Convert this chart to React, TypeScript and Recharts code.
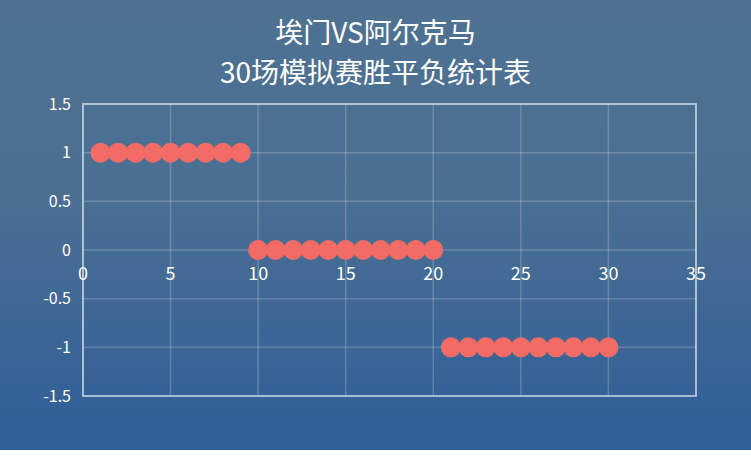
import React from "react";
import {
  ScatterChart,
  Scatter,
  XAxis,
  YAxis,
  CartesianGrid,
  ReferenceArea,
} from "recharts";

// 30 simulated matches: 1 = win, 0 = draw, -1 = loss
const matches = [
  1, 2, 3, 4, 5, 6, 7, 8, 9, 10, 11, 12, 13, 14, 15, 16, 17, 18, 19, 20, 21,
  22, 23, 24, 25, 26, 27, 28, 29, 30,
];
const wins = [1, 1, 1, 1, 1, 1, 1, 1, 1];
const draws = [0, 0, 0, 0, 0, 0, 0, 0, 0, 0, 0];
const losses = [-1, -1, -1, -1, -1, -1, -1, -1, -1, -1];
const results = [...wins, ...draws, ...losses];
const xTicks = [0, 5, 10, 15, 20, 25, 30, 35];
const yTicks = [-1.5, -1, -0.5, 0, 0.5, 1, 1.5];
const titleLines = ["埃门VS阿尔克马", "30场模拟赛胜平负统计表"];

const data = matches.map((m, i) => ({ match: m, result: results[i] }));

const FONT = '"Noto Sans CJK SC", "Noto Sans", sans-serif';

// x labels sit on the zero line, not at the bottom of the plot
const XTick = (props: any) => {
  const { x, y, payload } = props;
  return (
    <text
      x={x}
      y={y - 122}
      dy="0.355em"
      textAnchor="middle"
      fill="#ffffff"
      fontSize={18}
      fontFamily={FONT}
    >
      {payload.value}
    </text>
  );
};

const Dot = (props: any) => (
  <circle cx={props.cx} cy={props.cy} r={10} fill="#f26b65" />
);

export default function App() {
  return (
    <div
      style={{
        position: "relative",
        width: 751,
        height: 450,
        background: "linear-gradient(180deg, #4f7292 0%, #4a6f93 45%, #2f5e98 100%)",
        fontFamily: FONT,
      }}
    >
      <style>{"body{margin:0}"}</style>
      <div
        style={{
          position: "absolute",
          top: 11,
          left: 0,
          width: 751,
          textAlign: "center",
          color: "#ffffff",
          fontSize: 28,
          lineHeight: "40px",
        }}
      >
        {titleLines.map((t) => (
          <div key={t}>{t}</div>
        ))}
      </div>
      <ScatterChart
        width={751}
        height={450}
        margin={{ top: 104, right: 55, bottom: 24, left: 0 }}
      >
        <CartesianGrid stroke="rgba(255,255,255,0.2)" strokeWidth={1.5} />
        <XAxis
          type="number"
          dataKey="match"
          domain={[0, 35]}
          ticks={xTicks}
          interval={0}
          height={30}
          axisLine={false}
          tickLine={false}
          tickSize={0}
          tickMargin={0}
          tick={<XTick />}
        />
        <YAxis
          type="number"
          dataKey="result"
          domain={[-1.5, 1.5]}
          ticks={yTicks}
          interval={0}
          width={83}
          axisLine={false}
          tickLine={false}
          tickSize={0}
          tickMargin={12}
          tick={{ fill: "#ffffff", fontSize: 16, fontFamily: FONT }}
        />
        <ReferenceArea
          x1={0}
          x2={35}
          y1={-1.5}
          y2={1.5}
          fill="none"
          stroke="rgba(255,255,255,0.5)"
          strokeWidth={2}
          ifOverflow="visible"
        />
        <Scatter data={data} shape={<Dot />} isAnimationActive={false} />
      </ScatterChart>
    </div>
  );
}
